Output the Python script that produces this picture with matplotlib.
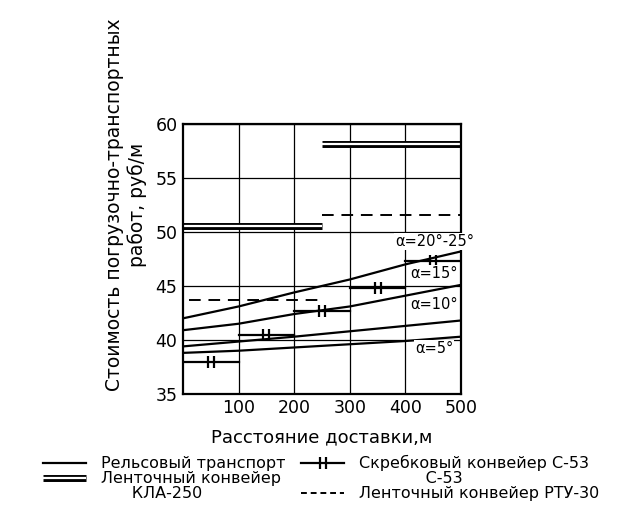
import matplotlib.pyplot as plt
import matplotlib.patheffects as pe
from matplotlib.lines import Line2D
from matplotlib.path import Path

# distance, m
dist = [0, 100, 200, 300, 400, 500]

# rail transport, one curve per slope angle
rail_a20 = [42.0, 43.1, 44.4, 45.6, 47.0, 48.2]
rail_a15 = [40.9, 41.5, 42.4, 43.1, 44.1, 45.1]
rail_a10 = [39.4, 39.85, 40.3, 40.8, 41.3, 41.8]
rail_a5 = [38.8, 39.0, 39.3, 39.6, 39.9, 40.3]

# scraper conveyor C-53, steps per 100 m
scraper_edges = [0, 100, 200, 300, 400, 500]
scraper_cost = [38.0, 40.5, 42.7, 44.8, 47.3]

# belt conveyor KLA-250 and RTU-30, two steps each
belt_edges = [0, 250, 500]
kla_cost = [50.6, 58.2]
rtu_edges = [10, 250, 500]
rtu_cost = [43.7, 51.6]

angle_labels = ["α=20°-25°", "α=15°", "α=10°", "α=5°"]
angle_label_pos = [(452, 49.1), (452, 46.2), (452, 43.3), (452, 39.2)]

# two short vertical strokes, the mark on the scraper line
double_tick = Path([(-0.6, -1), (-0.6, 1), (0.6, -1), (0.6, 1)],
                   [Path.MOVETO, Path.LINETO, Path.MOVETO, Path.LINETO])
double_line = [pe.Stroke(linewidth=5, foreground="black", capstyle="butt"),
               pe.Stroke(linewidth=1.6, foreground="white", capstyle="butt")]


def main():
    fig = plt.figure(figsize=(6.42, 5.28), dpi=100)
    ax = fig.add_axes([0.285, 0.254, 0.433, 0.511])

    for ys in [rail_a20, rail_a15, rail_a10, rail_a5]:
        ax.plot(dist, ys, color="black", lw=1.6)

    for i, c in enumerate(scraper_cost):
        x0, x1 = scraper_edges[i], scraper_edges[i + 1]
        ax.plot([x0, (x0 + x1) / 2, x1], [c, c, c], color="black", lw=1.6,
                marker=double_tick, markersize=8, markeredgewidth=1.6, markevery=[1])

    for i, c in enumerate(kla_cost):
        ax.plot([belt_edges[i], belt_edges[i + 1]], [c, c], color="black", lw=1,
                solid_capstyle="butt", path_effects=double_line)

    for i, c in enumerate(rtu_cost):
        ax.plot([rtu_edges[i], rtu_edges[i + 1]], [c, c], color="black", lw=1.4,
                linestyle=(0, (6, 4)))

    for txt, (x, y) in zip(angle_labels, angle_label_pos):
        ax.text(x, y, txt, fontsize=10.5, ha="center", va="center",
                bbox=dict(facecolor="white", edgecolor="none", pad=0.5))

    ax.set_xlim(0, 500)
    ax.set_ylim(35, 60)
    ax.set_xticks([100, 200, 300, 400, 500])
    ax.set_yticks([35, 40, 45, 50, 55, 60])
    ax.tick_params(labelsize=12.5, length=0, pad=4)
    ax.grid(True, color="black", lw=0.9)
    for s in ax.spines.values():
        s.set_linewidth(1.6)

    ax.set_xlabel("Расстояние доставки,м", fontsize=13, labelpad=8)
    ax.set_ylabel("Стоимость погрузочно-транспортных\nработ, руб/м", fontsize=13.5)
    ax.yaxis.set_label_coords(-0.13, 0.70)

    handles = [
        Line2D([], [], color="black", lw=1.6),
        Line2D([], [], color="black", lw=1, solid_capstyle="butt", path_effects=double_line),
        Line2D([], [], color="none"),
        Line2D([], [], color="black", lw=1.6, marker=double_tick, markersize=8,
               markeredgewidth=1.6, markevery=[1]),
        Line2D([], [], color="none"),
        Line2D([], [], color="black", lw=1.4, linestyle=(0, (3, 2))),
    ]
    labels = ["Рельсовый транспорт", "Ленточный конвейер", "      КЛА-250",
              "Скребковый конвейер С-53", "             С-53", "Ленточный конвейер РТУ-30"]
    fig.legend(handles, labels, ncol=2, loc="upper center", bbox_to_anchor=(0.5, 0.15),
               frameon=False, fontsize=11.5, labelspacing=0.0, columnspacing=1.0,
               handlelength=2.7, handletextpad=0.9, borderaxespad=0)

    fig.savefig("out.png", dpi=100)
    return True


if __name__ == "__main__":
    main()
